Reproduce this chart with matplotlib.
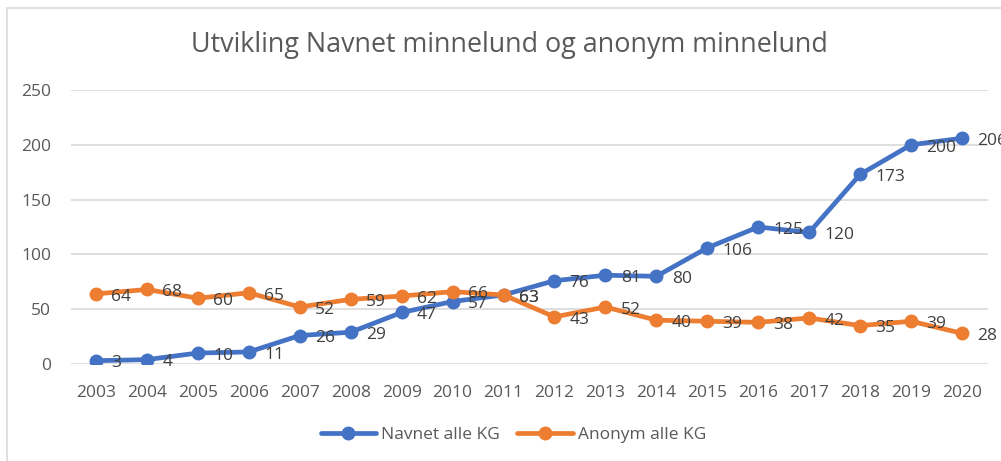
import matplotlib.pyplot as plt
from matplotlib.patches import Rectangle

plt.rcParams['font.family'] = ['Open Sans', 'DejaVu Sans']

# Data
years = [str(y) for y in range(2003, 2021)]
navnet = [3, 4, 10, 11, 26, 29, 47, 57, 63, 76, 81, 80, 106, 125, 120, 173, 200, 206]
anonym = [64, 68, 60, 65, 52, 59, 62, 66, 63, 43, 52, 40, 39, 38, 42, 35, 39, 28]
series_names = ['Navnet alle KG', 'Anonym alle KG']
title = 'Utvikling Navnet minnelund og anonym minnelund'

W, H = 1001, 461
fig = plt.figure(figsize=(W / 100, H / 100), dpi=100)

# light chart-area border (clipped at right/bottom in the reference)
fig.patches.append(Rectangle((7 / W, -0.1), 1.2, 1 - 8 / H + 0.1, transform=fig.transFigure,
                             fill=False, edgecolor='#D9D9D9', linewidth=1.2))

left, right = 70.5 / W, 987.5 / W
bottom, top = 1 - 364 / H, 1 - 90 / H
ax = fig.add_axes([left, bottom, right - left, top - bottom])

x = list(range(len(years)))
colors = ['#4472C4', '#ED7D31']
for vals, col, name in zip([navnet, anonym], colors, series_names):
    ax.plot(x, vals, color=col, lw=3.4, marker='o', ms=9, label=name,
            solid_capstyle='round', zorder=3)
for vals in [navnet, anonym]:
    for xi, v in zip(x, vals):
        ax.annotate(str(v), (xi, v), xytext=(11, -2), textcoords='offset points',
                    ha='left', va='center', fontsize=12.5, color='#404040',
                    annotation_clip=False, zorder=4)

ax.set_xlim(-0.5, len(years) - 0.5)
ax.set_ylim(0, 250)
ax.set_yticks(range(0, 251, 50))
ax.set_xticks(x)
ax.set_xticklabels(years)
ax.tick_params(length=0, labelsize=12.5, labelcolor='#595959')
ax.tick_params(axis='y', pad=14)
ax.tick_params(axis='x', pad=15)
ax.grid(axis='y', color='#D9D9D9', lw=1.2)
ax.set_axisbelow(True)
for s in ax.spines.values():
    s.set_visible(False)

fig.text(0.509, 1 - 45 / H, title, ha='center', va='center', fontsize=19.4, color='#595959')

fig.legend(loc='center', bbox_to_anchor=(0.513, 1 - 435 / H), ncol=2, frameon=False,
           fontsize=12.5, labelcolor='#595959', handlelength=3.2, columnspacing=1.0,
           handletextpad=0.3)

fig.savefig('out.png', dpi=100)
